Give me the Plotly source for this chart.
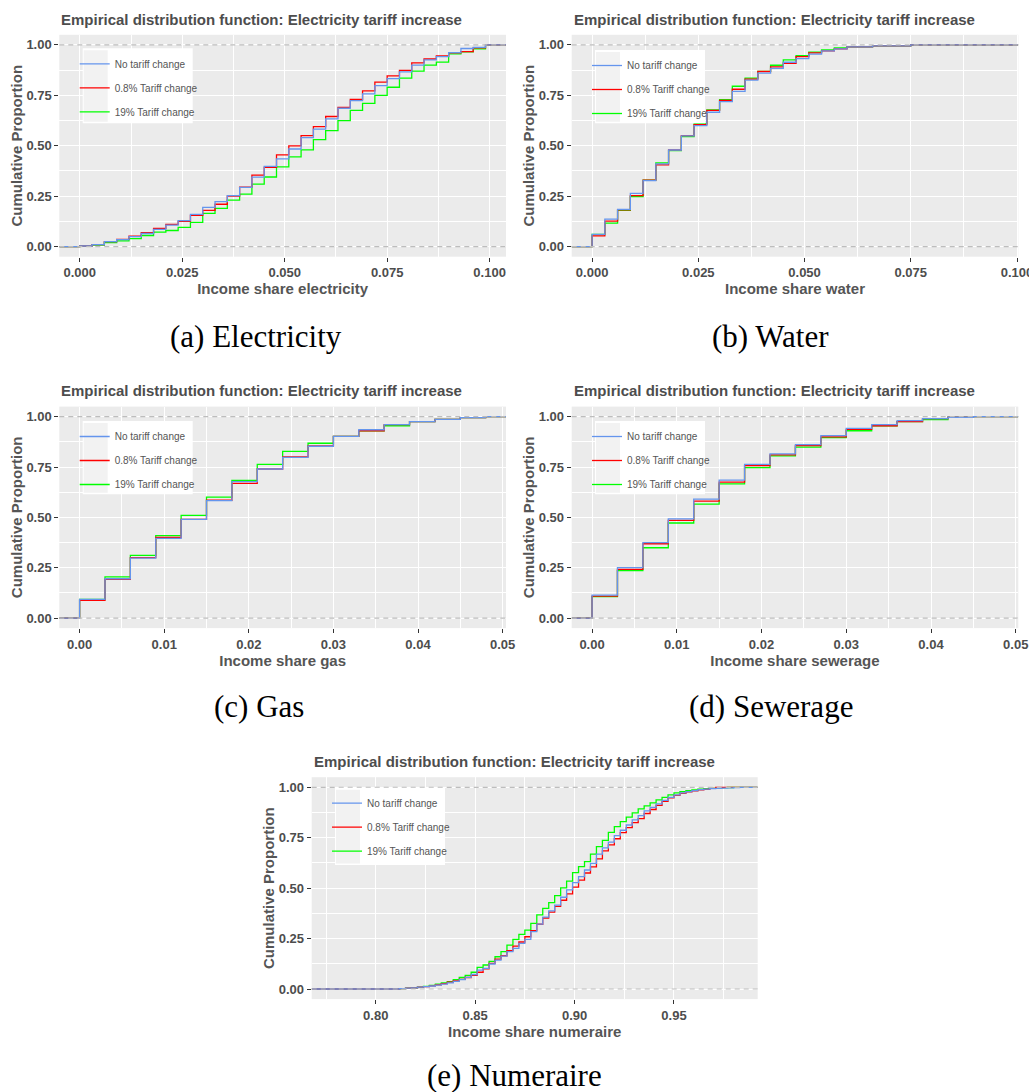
import plotly.graph_objects as go

# Reference geometry is measured on a 1029 x 1092 picture.
REF_W, REF_H = 1029, 1092
# The photographed page comes out ~1.5 % narrower than laid out (1014/1029),
# so the figure is laid out that much wider; all positions are fractions of it.
FIG_W, FIG_H = 1044, 1092

# ---------------- data ----------------
series_names = ["No tariff change", "0.8% Tariff change", "19% Tariff change"]
series_colors = ["#6495ED", "#FF0000", "#00FF00"]

elec_x = [0.000, 0.003, 0.006, 0.009, 0.012, 0.015, 0.018, 0.021, 0.024, 0.027,
          0.030, 0.033, 0.036, 0.039, 0.042, 0.045, 0.048, 0.051, 0.054, 0.057,
          0.060, 0.063, 0.066, 0.069, 0.072, 0.075, 0.078, 0.081, 0.084, 0.087,
          0.090, 0.093, 0.096, 0.099]
elec_none = [0.003, 0.010, 0.025, 0.035, 0.050, 0.065, 0.085, 0.107, 0.129, 0.160,
             0.195, 0.223, 0.253, 0.294, 0.344, 0.398, 0.435, 0.484, 0.540, 0.582,
             0.633, 0.686, 0.724, 0.757, 0.798, 0.833, 0.866, 0.900, 0.926, 0.942,
             0.962, 0.982, 0.988, 1.000]
elec_low = [0.003, 0.010, 0.025, 0.036, 0.052, 0.069, 0.090, 0.110, 0.125, 0.155,
            0.180, 0.210, 0.250, 0.295, 0.354, 0.393, 0.455, 0.499, 0.550, 0.595,
            0.645, 0.690, 0.730, 0.772, 0.815, 0.846, 0.874, 0.911, 0.930, 0.945,
            0.960, 0.967, 0.985, 1.000]
elec_high = [0.003, 0.008, 0.020, 0.028, 0.040, 0.055, 0.072, 0.080, 0.095, 0.120,
             0.165, 0.190, 0.230, 0.260, 0.310, 0.345, 0.395, 0.445, 0.480, 0.530,
             0.575, 0.625, 0.675, 0.710, 0.750, 0.790, 0.835, 0.870, 0.900, 0.915,
             0.955, 0.965, 0.980, 1.000]

water_x = [0.000, 0.003, 0.006, 0.009, 0.012, 0.015, 0.018, 0.021, 0.024, 0.027,
           0.030, 0.033, 0.036, 0.039, 0.042, 0.045, 0.048, 0.051, 0.054, 0.057,
           0.060, 0.066, 0.075]
water_none = [0.061, 0.136, 0.185, 0.264, 0.327, 0.410, 0.479, 0.549, 0.600, 0.666,
              0.719, 0.770, 0.825, 0.860, 0.884, 0.914, 0.932, 0.954, 0.970, 0.980,
              0.990, 0.995, 1.000]
water_low = [0.053, 0.126, 0.182, 0.253, 0.330, 0.405, 0.480, 0.550, 0.605, 0.675,
             0.725, 0.780, 0.830, 0.868, 0.891, 0.909, 0.942, 0.960, 0.970, 0.980,
             0.990, 0.995, 1.000]
water_high = [0.060, 0.116, 0.180, 0.248, 0.330, 0.415, 0.476, 0.545, 0.608, 0.678,
              0.729, 0.795, 0.835, 0.869, 0.899, 0.926, 0.947, 0.964, 0.975, 0.985,
              0.990, 0.995, 1.000]

gas_x = [0.000, 0.003, 0.006, 0.009, 0.012, 0.015, 0.018, 0.021, 0.024, 0.027,
         0.030, 0.033, 0.036, 0.039, 0.042, 0.045, 0.048]
gas_none = [0.093, 0.195, 0.298, 0.396, 0.490, 0.583, 0.677, 0.740, 0.798, 0.853,
            0.902, 0.935, 0.960, 0.975, 0.987, 0.995, 1.000]
gas_low = [0.088, 0.192, 0.300, 0.400, 0.490, 0.585, 0.669, 0.740, 0.800, 0.855,
           0.902, 0.930, 0.960, 0.975, 0.987, 0.995, 1.000]
gas_high = [0.092, 0.204, 0.311, 0.409, 0.510, 0.600, 0.684, 0.763, 0.828, 0.868,
            0.902, 0.930, 0.955, 0.975, 0.987, 0.995, 1.000]

sew_x = [0.000, 0.003, 0.006, 0.009, 0.012, 0.015, 0.018, 0.021, 0.024, 0.027,
         0.030, 0.033, 0.036, 0.039, 0.042, 0.045]
sew_none = [0.114, 0.250, 0.374, 0.492, 0.591, 0.685, 0.763, 0.815, 0.861, 0.906,
            0.942, 0.960, 0.980, 0.990, 0.997, 1.000]
sew_low = [0.109, 0.242, 0.369, 0.485, 0.581, 0.675, 0.757, 0.810, 0.856, 0.900,
           0.937, 0.955, 0.975, 0.990, 0.997, 1.000]
sew_high = [0.106, 0.235, 0.349, 0.472, 0.566, 0.666, 0.747, 0.805, 0.849, 0.896,
            0.930, 0.955, 0.975, 0.985, 0.997, 1.000]

num_x = [0.812, 0.815, 0.818, 0.821, 0.824, 0.827, 0.830, 0.833, 0.836, 0.839,
         0.842, 0.845, 0.848, 0.851, 0.854, 0.857, 0.860, 0.863, 0.866, 0.869,
         0.872, 0.875, 0.878, 0.881, 0.884, 0.887, 0.890, 0.893, 0.896, 0.899,
         0.902, 0.905, 0.908, 0.911, 0.914, 0.917, 0.920, 0.923, 0.926, 0.929,
         0.932, 0.935, 0.938, 0.941, 0.944, 0.947, 0.950, 0.953, 0.956, 0.959,
         0.962, 0.965, 0.968, 0.971, 0.974, 0.977, 0.980, 0.983]
num_none = [0.002, 0.004, 0.006, 0.009, 0.012, 0.015, 0.019, 0.024, 0.030, 0.038,
            0.047, 0.058, 0.072, 0.094, 0.102, 0.124, 0.143, 0.163, 0.185, 0.201,
            0.226, 0.246, 0.284, 0.322, 0.356, 0.387, 0.416, 0.455, 0.491, 0.527,
            0.557, 0.590, 0.623, 0.669, 0.700, 0.728, 0.760, 0.787, 0.813, 0.838,
            0.860, 0.883, 0.900, 0.918, 0.935, 0.950, 0.962, 0.972, 0.978, 0.983,
            0.988, 0.991, 0.993, 0.995, 0.996, 0.997, 0.998, 1.000]
num_low = [0.002, 0.004, 0.006, 0.009, 0.012, 0.016, 0.021, 0.027, 0.034, 0.040,
           0.048, 0.057, 0.068, 0.083, 0.100, 0.127, 0.148, 0.165, 0.190, 0.213,
           0.233, 0.259, 0.289, 0.321, 0.352, 0.381, 0.410, 0.440, 0.472, 0.505,
           0.540, 0.575, 0.605, 0.645, 0.685, 0.715, 0.745, 0.775, 0.800, 0.825,
           0.845, 0.870, 0.890, 0.910, 0.930, 0.948, 0.960, 0.970, 0.977, 0.982,
           0.987, 0.990, 0.995, 1.000, 1.000, 1.000, 1.000, 1.000]
num_high = [0.002, 0.004, 0.006, 0.009, 0.013, 0.018, 0.024, 0.030, 0.037, 0.047,
            0.057, 0.068, 0.083, 0.107, 0.119, 0.137, 0.160, 0.185, 0.218, 0.246,
            0.271, 0.292, 0.325, 0.368, 0.400, 0.428, 0.463, 0.501, 0.535, 0.577,
            0.607, 0.631, 0.669, 0.706, 0.737, 0.776, 0.805, 0.830, 0.852, 0.873,
            0.893, 0.908, 0.923, 0.938, 0.950, 0.962, 0.972, 0.978, 0.983, 0.987,
            0.991, 0.993, 0.995, 0.997, 0.998, 0.999, 1.000, 1.000]

title_text = "Empirical distribution function: Electricity tariff increase"
y_title = "Cumulative Proportion"

# ---------------- layout geometry (reference pixels) ----------------
panels = [
    dict(x=elec_x, ys=(elec_none, elec_low, elec_high), box=(59.3, 34.8, 506.0, 256.7),
         xrange=[-0.005, 0.104], dtick=0.025, fmt=".3f", xtitle="Income share electricity",
         caption="(a) Electricity", cap=(256, 336), lbox=(82.7, 48.3, 192.7, 123.3)),
    dict(x=water_x, ys=(water_none, water_low, water_high), box=(571.7, 34.8, 1018.3, 256.7),
         xrange=[-0.0048, 0.1003], dtick=0.025, fmt=".3f", xtitle="Income share water",
         caption="(b) Water", cap=(770, 336), lbox=(595.0, 50.0, 705.0, 123.3)),
    dict(x=gas_x, ys=(gas_none, gas_low, gas_high), box=(59.3, 406.6, 506.0, 628.1),
         xrange=[-0.0024, 0.0504], dtick=0.01, fmt=".2f", xtitle="Income share gas",
         caption="(c) Gas", cap=(259, 706), lbox=(82.7, 421.0, 192.7, 494.3)),
    dict(x=sew_x, ys=(sew_none, sew_low, sew_high), box=(571.7, 406.6, 1018.3, 628.1),
         xrange=[-0.0024, 0.0503], dtick=0.01, fmt=".2f", xtitle="Income share sewerage",
         caption="(d) Sewerage", cap=(771, 706), lbox=(595.0, 421.0, 705.0, 494.3)),
    dict(x=num_x, ys=(num_none, num_low, num_high), box=(311.7, 777.2, 757.7, 999.1),
         xrange=[0.7678, 0.9921], dtick=0.05, fmt=".2f", xtitle="Income share numeraire",
         caption="(e) Numeraire", cap=(514, 1075), lbox=(335.0, 787.7, 445.0, 865.0)),
]

SANS = "Liberation Sans, Arial, sans-serif"
TXT = "#4D4D4D"

fig = go.Figure()
layout = dict(margin=dict(l=0, r=0, t=0, b=0),
              paper_bgcolor="white", plot_bgcolor="#EBEBEB", showlegend=True)
shapes, annotations = [], []


def fx(p):
    return p / REF_W


def fy(p):
    return 1 - p / REF_H


for i, p in enumerate(panels, start=1):
    sfx = "" if i == 1 else str(i)
    xa, ya, leg = "x" + sfx, "y" + sfx, "legend" + sfx
    xr = p["xrange"]
    for s in (2, 1, 0):  # blue drawn last (on top)
        ys = p["ys"][s]
        fig.add_trace(go.Scatter(
            x=[xr[0]] + p["x"] + [xr[1]], y=[0] + ys + [ys[-1]],
            mode="lines", line=dict(color=series_colors[s], width=1.3, shape="hv"),
            name=series_names[s], legend=leg, legendgroup=f"p{i}s{s}", legendrank=s + 1,
            xaxis=xa, yaxis=ya, hoverinfo="skip"))

    left, top, right, bottom = p["box"]
    tickfont = dict(family=SANS, size=13, color=TXT, weight="bold")
    titlefont = dict(family=SANS, size=15, color="#555555", weight="bold")
    layout["xaxis" + sfx] = dict(
        domain=[fx(left), fx(right)], range=xr, anchor=ya, tick0=0, dtick=p["dtick"],
        tickformat=p["fmt"], showgrid=True, gridcolor="white", gridwidth=1.1,
        minor=dict(dtick=p["dtick"] / 2, showgrid=True, gridcolor="white", gridwidth=0.5),
        ticks="outside", ticklen=4, tickwidth=1, tickcolor="#333333",
        zeroline=False, showline=False, tickfont=tickfont, ticklabeloverflow="allow",
        title=dict(text=p["xtitle"], font=titlefont, standoff=3))
    layout["yaxis" + sfx] = dict(
        domain=[fy(bottom), fy(top)], range=[-0.05, 1.05], anchor=xa, tick0=0, dtick=0.25,
        tickformat=".2f", showgrid=True, gridcolor="white", gridwidth=1.1,
        minor=dict(dtick=0.125, showgrid=True, gridcolor="white", gridwidth=0.5),
        ticks="outside", ticklen=4, tickwidth=1, tickcolor="#333333",
        zeroline=False, showline=False, tickfont=tickfont,
        title=dict(text=y_title, font=titlefont, standoff=0))

    # dashed reference lines at 0 and 1 (drawn above the curves)
    for yv in (0, 1):
        shapes.append(dict(type="line", xref=xa + " domain", yref=ya, x0=0, x1=1, y0=yv, y1=yv,
                           line=dict(color="#BDBDBD", width=1.2, dash="5px,4px"), layer="above"))

    # legend box
    bl, bt, br, bb = p["lbox"]
    shapes.append(dict(type="rect", xref="paper", yref="paper", x0=fx(bl), x1=fx(br),
                       y0=fy(bb), y1=fy(bt), fillcolor="white", line=dict(width=0), layer="above"))
    shapes.append(dict(type="rect", xref="paper", yref="paper", x0=fx(bl + 1), x1=fx(bl + 25),
                       y0=fy(bb - 1.5), y1=fy(bt + 2), fillcolor="#F2F2F2", line=dict(width=0),
                       layer="above"))
    layout[leg] = dict(x=fx(bl - 8), y=fy(bt + 1), xanchor="left", yanchor="top",
                       bgcolor="rgba(0,0,0,0)", borderwidth=0,
                       font=dict(family=SANS, size=10, color="#555555"),
                       tracegroupgap=5, traceorder="grouped", itemwidth=30)

    # panel title
    annotations.append(dict(text=title_text, xref="paper", yref="paper", x=fx(left),
                            y=fy(top - 15.7), xanchor="left", yanchor="middle", showarrow=False,
                            font=dict(family=SANS, size=15, color=TXT, weight="bold")))
    # caption
    cx, cy = p["cap"]
    annotations.append(dict(text=p["caption"], xref="paper", yref="paper", x=fx(cx), y=fy(cy),
                            xanchor="center", yanchor="middle", showarrow=False,
                            font=dict(family="Liberation Serif, Times New Roman, serif",
                                      size=31, color="black")))

layout["shapes"] = shapes
layout["annotations"] = annotations
fig.update_layout(**layout)
fig.write_html("out.html", config={"displayModeBar": False},
               default_width=f"{FIG_W}px",
               default_height=f"{FIG_H}px; position:absolute; left:0px; top:0px")
